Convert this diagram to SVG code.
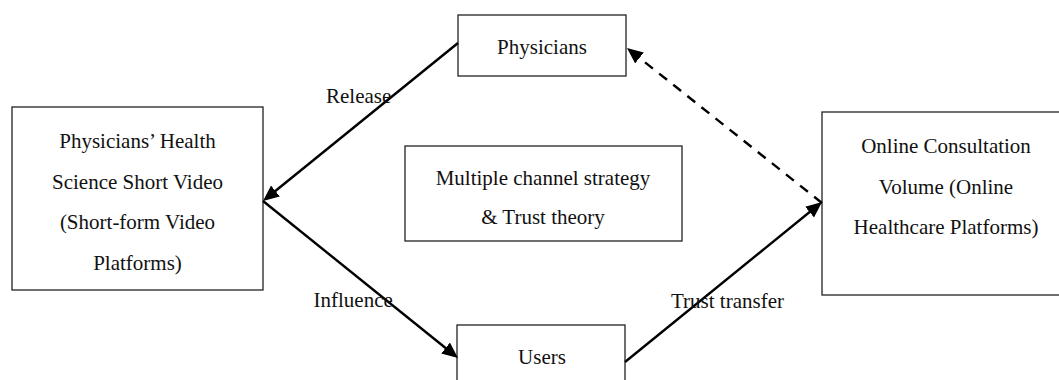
<svg xmlns="http://www.w3.org/2000/svg" width="1059" height="380" viewBox="0 0 1059 380">
  <style>
    .box { fill: #ffffff; stroke: #222222; stroke-width: 1.3; }
    .txt { font-family: "Liberation Serif", "Times New Roman", serif; font-size: 21px; fill: #111111; text-anchor: middle; }
    .lbl { font-family: "Liberation Serif", "Times New Roman", serif; font-size: 21px; fill: #111111; }
    .edge { fill: none; stroke: #000000; stroke-width: 2.4; }
    .dashed { stroke-dasharray: 10 8; }
  </style>
  <defs>
    <marker id="arrow" markerUnits="userSpaceOnUse" markerWidth="18" markerHeight="16" refX="12" refY="7" orient="auto">
      <path d="M0,0 L16,7 L0,14 z" fill="#000000"/>
    </marker>
  </defs>

  <rect width="1059" height="380" fill="#ffffff"/>

  <!-- nodes -->
  <g id="node-physicians">
    <rect class="box" x="458" y="15" width="168" height="61"/>
    <text class="txt" x="542" y="54">Physicians</text>
  </g>

  <g id="node-short-video">
    <rect class="box" x="12" y="107" width="251" height="183"/>
    <text class="txt" x="137.5" y="148">Physicians’ Health</text>
    <text class="txt" x="137.5" y="188.5">Science Short Video</text>
    <text class="txt" x="137.5" y="229">(Short-form Video</text>
    <text class="txt" x="137.5" y="270">Platforms)</text>
  </g>

  <g id="node-theory">
    <rect class="box" x="405" y="146" width="277" height="95"/>
    <text class="txt" x="543" y="184.5">Multiple channel strategy</text>
    <text class="txt" x="543" y="224">&amp; Trust theory</text>
  </g>

  <g id="node-consultation">
    <rect class="box" x="822" y="112" width="250" height="183"/>
    <text class="txt" x="946" y="152.5">Online Consultation</text>
    <text class="txt" x="946" y="193.5">Volume (Online</text>
    <text class="txt" x="946" y="233.5">Healthcare Platforms)</text>
  </g>

  <g id="node-users">
    <rect class="box" x="457" y="325" width="168" height="70"/>
    <text class="txt" x="542" y="364">Users</text>
  </g>

  <!-- connectors -->
  <g id="connectors">
    <line class="edge" x1="458" y1="43" x2="266.1" y2="198.5" marker-end="url(#arrow)"/>
    <line class="edge" x1="263" y1="201" x2="454.9" y2="355.5" marker-end="url(#arrow)"/>
    <line class="edge" x1="625" y1="362" x2="818.9" y2="204.5" marker-end="url(#arrow)"/>
    <line class="edge dashed" x1="822" y1="203" x2="630.1" y2="50.5" marker-end="url(#arrow)"/>
    <text class="lbl" x="326" y="103">Release</text>
    <text class="lbl" x="313.5" y="306.5">Influence</text>
    <text class="lbl" x="671" y="307.5">Trust transfer</text>
  </g>
</svg>
